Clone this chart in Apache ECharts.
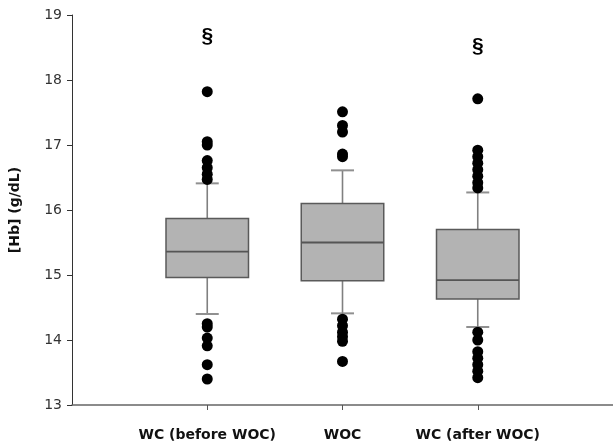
<!DOCTYPE html>
<html>
<head>
<meta charset="utf-8">
<script src="https://cdn.jsdelivr.net/npm/echarts@6/dist/echarts.min.js"></script>
<style>html,body{margin:0;padding:0;background:#fff}#c{width:613px;height:448px}</style>
</head>
<body>
<div id="c"></div>
<script>
var categories = ['WC (before WOC)', 'WOC', 'WC (after WOC)'];
var lowerWhisker = [14.40, 14.41, 14.20];
var q1 = [14.96, 14.91, 14.63];
var median = [15.36, 15.50, 14.92];
var q3 = [15.87, 16.10, 15.70];
var upperWhisker = [16.41, 16.61, 16.27];
var outliersBefore = [17.82, 17.05, 17.00, 16.76, 16.65, 16.55, 16.47, 14.25, 14.20, 14.03, 13.91, 13.62, 13.40];
var outliersWOC = [17.51, 17.30, 17.20, 16.86, 16.82, 14.32, 14.22, 14.12, 14.05, 13.98, 13.67];
var outliersAfter = [17.71, 16.92, 16.82, 16.72, 16.62, 16.52, 16.42, 16.34, 14.12, 14.00, 13.82, 13.72, 13.62, 13.52, 13.42];
var significance = ['§', '', '§'];
var significanceY = [18.68, null, 18.52];
var yTicks = [13, 14, 15, 16, 17, 18, 19];

var boxData = categories.map(function (c, i) {
  return [i + 1, lowerWhisker[i], q1[i], median[i], q3[i], upperWhisker[i]];
});
var outlierGroups = [outliersBefore, outliersWOC, outliersAfter];
var outlierData = [];
outlierGroups.forEach(function (g, i) {
  g.forEach(function (v) { outlierData.push([i + 1, v]); });
});
var sigData = [];
significance.forEach(function (s, i) {
  if (s) sigData.push({ value: [i + 1, significanceY[i]], label: s });
});

var chart = echarts.init(document.getElementById('c'));
chart.setOption({
  animation: false,
  grid: { left: 72, right: 0, top: 15, bottom: 43 },
  xAxis: {
    type: 'value', min: 0, max: 4,
    splitLine: { show: false },
    axisLine: { show: true, lineStyle: { color: '#666', width: 1.5 } },
    axisTick: { show: true, customValues: [1, 2, 3], length: 5, inside: false, lineStyle: { color: '#555' } },
    axisLabel: {
      customValues: [1, 2, 3],
      formatter: function (v) { return categories[Math.round(v) - 1] || ''; },
      fontFamily: 'DejaVu Sans, sans-serif', fontWeight: 'bold', fontSize: 14, color: '#111', margin: 23
    }
  },
  yAxis: {
    type: 'value', min: 13, max: 19, interval: 1,
    name: '[Hb] (g/dL)', nameLocation: 'middle', nameGap: 50,
    nameTextStyle: { fontFamily: 'DejaVu Sans, sans-serif', fontWeight: 'bold', fontSize: 14, color: '#111' },
    splitLine: { show: false },
    axisLine: { show: true, lineStyle: { color: '#333', width: 1 } },
    axisTick: { show: true, length: 5, lineStyle: { color: '#333' } },
    axisLabel: {
      formatter: function (v) { return yTicks.indexOf(v) >= 0 ? String(v) : ''; },
      fontFamily: 'DejaVu Sans, sans-serif', fontSize: 14, color: '#333', margin: 10
    }
  },
  series: [
    {
      type: 'custom',
      data: boxData,
      renderItem: function (params, api) {
        var x = api.value(0);
        var pLow = api.coord([x, api.value(1)]);
        var pQ1 = api.coord([x, api.value(2)]);
        var pMed = api.coord([x, api.value(3)]);
        var pQ3 = api.coord([x, api.value(4)]);
        var pHigh = api.coord([x, api.value(5)]);
        var unit = api.size([1, 0])[0];
        var hw = unit * 0.305;
        var cw = unit * 0.085;
        var cx = pMed[0];
        var wStyle = { stroke: '#808080', lineWidth: 1.6 };
        return {
          type: 'group',
          children: [
            { type: 'line', shape: { x1: cx, y1: pQ3[1], x2: cx, y2: pHigh[1] }, style: wStyle },
            { type: 'line', shape: { x1: cx, y1: pQ1[1], x2: cx, y2: pLow[1] }, style: wStyle },
            { type: 'line', shape: { x1: cx - cw, y1: pHigh[1], x2: cx + cw, y2: pHigh[1] }, style: { stroke: '#909090', lineWidth: 2 } },
            { type: 'line', shape: { x1: cx - cw, y1: pLow[1], x2: cx + cw, y2: pLow[1] }, style: { stroke: '#909090', lineWidth: 2 } },
            { type: 'rect', shape: { x: cx - hw, y: pQ3[1], width: hw * 2, height: pQ1[1] - pQ3[1] },
              style: { fill: '#b3b3b3', stroke: '#5a5a5a', lineWidth: 1.5 } },
            { type: 'line', shape: { x1: cx - hw, y1: pMed[1], x2: cx + hw, y2: pMed[1] }, style: { stroke: '#555', lineWidth: 1.8 } }
          ]
        };
      },
      z: 2
    },
    {
      type: 'scatter',
      data: outlierData,
      symbol: 'circle',
      symbolSize: 11,
      itemStyle: { color: '#000', opacity: 1 },
      z: 3
    },
    {
      type: 'scatter',
      data: sigData.map(function (d) { return { value: d.value, label: { formatter: d.label } }; }),
      symbolSize: 0,
      itemStyle: { opacity: 1 },
      label: {
        show: true, position: 'inside',
        fontFamily: 'Liberation Sans, Arial, sans-serif', fontSize: 21, fontWeight: 'bold',
        color: '#000', textBorderWidth: 0
      },
      z: 4
    }
  ]
});
</script>
</body>
</html>
